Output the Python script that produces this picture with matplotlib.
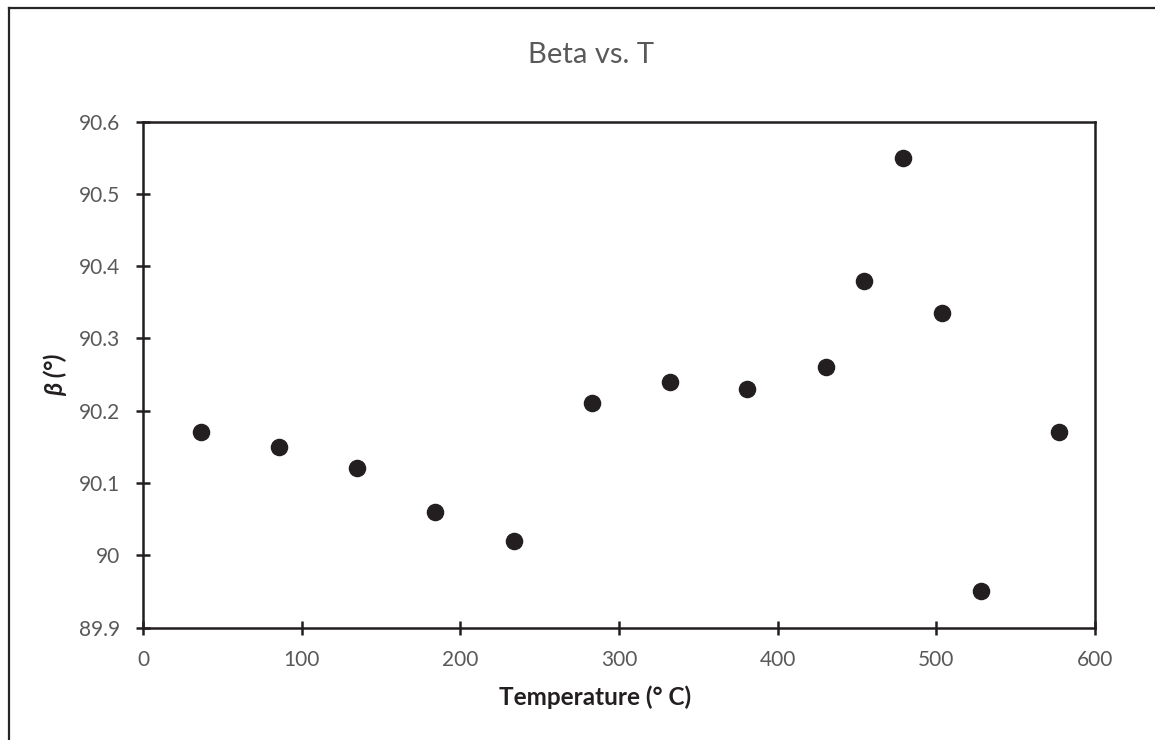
import matplotlib
matplotlib.use("Agg")
import matplotlib.pyplot as plt
from matplotlib.lines import Line2D

# measured lattice angle beta vs temperature
temperature = [36.5, 85.7, 135.0, 184.2, 233.6, 282.7, 331.9, 380.8,
               430.2, 454.7, 479.3, 503.9, 528.4, 577.6]
beta = [90.17, 90.15, 90.12, 90.06, 90.02, 90.21, 90.24, 90.23,
        90.26, 90.38, 90.55, 90.335, 89.95, 90.17]

x_ticks = [0, 100, 200, 300, 400, 500, 600]
y_ticks = [89.9, 90.0, 90.1, 90.2, 90.3, 90.4, 90.5, 90.6]
y_tick_labels = ["89.9", "90", "90.1", "90.2", "90.3", "90.4", "90.5", "90.6"]

FONT = ["Lato", "DejaVu Sans"]
INK = "#231f20"
GREY = "#595959"

plt.rcParams["font.family"] = FONT

fig = plt.figure(figsize=(11.55, 7.4), dpi=100)
ax = fig.add_axes([0.1238, 0.152, 0.8242, 0.6838])

ax.scatter(temperature, beta, s=135, color=INK, zorder=3, clip_on=False)

ax.set_xlim(0, 600)
ax.set_ylim(89.9, 90.6)
ax.set_xticks(x_ticks)
ax.set_yticks(y_ticks)
ax.set_yticklabels(y_tick_labels)

for side in ["left", "bottom", "right", "top"]:
    ax.spines[side].set_color(INK)
    ax.spines[side].set_linewidth(1.8)

ax.tick_params(axis="both", direction="inout", length=10, width=1.8,
               color=INK, labelcolor=GREY, labelsize=15)
ax.tick_params(axis="x", pad=11.5)
ax.tick_params(axis="y", pad=11.5)

# chart title sits above the plot area, centred on the chart
fig.text(591 / 1155, 1 - 55 / 740, "Beta vs. T", fontsize=21, color=GREY,
         ha="center", va="center")

ax.set_xlabel("Temperature (° C)", fontsize=17.5, fontweight="bold", color=INK)
ax.xaxis.set_label_coords((595 - 143) / 952, -(697 - 627.6) / 506)
ax.xaxis.label.set_va("center")

ax.set_ylabel("β (°)", fontsize=18, fontweight="bold", fontstyle="italic", color=INK)
ax.yaxis.set_label_coords(-(143 - 55) / 952, 0.5)
ax.yaxis.label.set_va("center")

# chart area frame (left and top edges visible)
fig.add_artist(Line2D([8.5 / 1155, 8.5 / 1155], [0, 1 - 7.5 / 740],
                      transform=fig.transFigure, color="#262626", lw=1.6))
fig.add_artist(Line2D([8.5 / 1155, 1], [1 - 7.5 / 740, 1 - 7.5 / 740],
                      transform=fig.transFigure, color="#262626", lw=1.6))

fig.savefig("out.png", dpi=100, facecolor="white")
